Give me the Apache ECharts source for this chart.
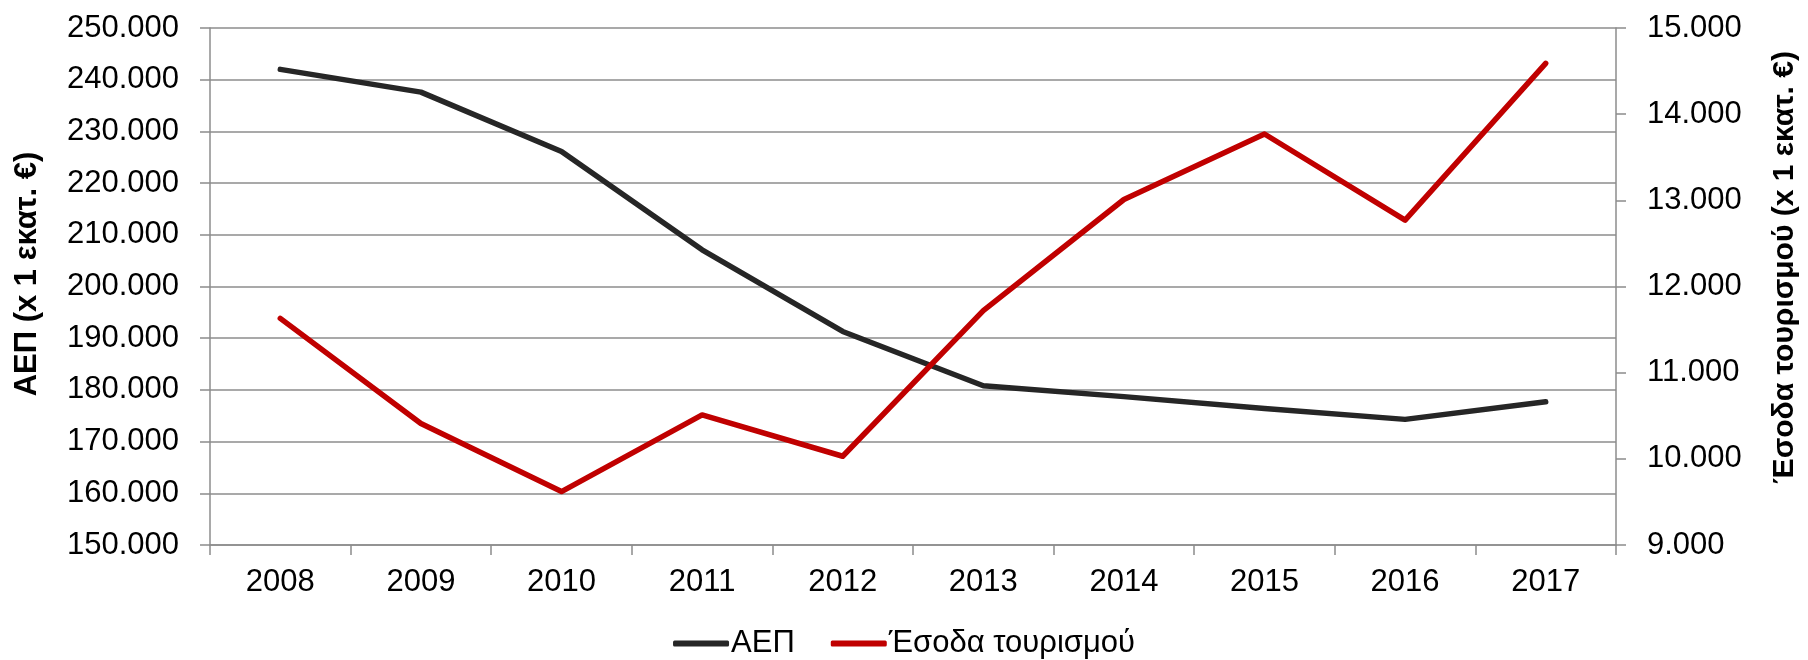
<!DOCTYPE html>
<html>
<head>
<meta charset="utf-8">
<script src="https://cdn.jsdelivr.net/npm/echarts@6/dist/echarts.min.js"></script>
<style>
html,body{margin:0;padding:0;background:#fff;}
#chart{width:1808px;height:660px;}
</style>
</head>
<body>
<div id="chart"></div>
<script>
const years = ['2008','2009','2010','2011','2012','2013','2014','2015','2016','2017'];
const gdp = [242000, 237600, 226100, 207100, 191300, 180800, 178700, 176400, 174300, 177700];
const tourism = [11630, 10410, 9620, 10510, 10030, 11720, 13010, 13770, 12770, 14590];
const seriesNames = ['ΑΕΠ', 'Έσοδα τουρισμού'];
const leftAxisName = 'ΑΕΠ (x 1 εκατ. €)';
const rightAxisName = 'Έσοδα τουρισμού (x 1 εκατ. €)';

const FONT = "'Liberation Sans', Arial, sans-serif";
const GRID = '#8c8c8c';
function fmt(v){ return String(Math.round(v)).replace(/\B(?=(\d{3})+(?!\d))/g, '.'); }

const chart = echarts.init(document.getElementById('chart'), null, {renderer:'canvas'});
chart.setOption({
  animation:false,
  backgroundColor:'#fff',
  textStyle:{fontFamily:FONT},
  grid:{left:210, right:190, top:28, bottom:115, containLabel:false},
  legend:{
    data:seriesNames,
    left:'center', bottom:1, padding:0,
    icon:'roundRect', itemWidth:56, itemHeight:6, itemGap:36,
    textStyle:{fontFamily:FONT, fontSize:31, color:'#000', padding:[0,0,0,-3]}
  },
  xAxis:{
    type:'category', data:years, boundaryGap:true,
    axisLine:{lineStyle:{color:GRID, width:1.5}},
    axisTick:{show:true, length:10, interval:0, lineStyle:{color:GRID, width:1.5}},
    axisLabel:{fontFamily:FONT, fontSize:31, color:'#000', margin:22, interval:0},
    splitLine:{show:false}
  },
  yAxis:[{
    type:'value', min:150000, max:250000, interval:10000, position:'left',
    name:leftAxisName, nameLocation:'middle', nameGap:167, nameRotate:90,
    nameTextStyle:{fontFamily:FONT, fontSize:31, fontWeight:'bold', color:'#000', padding:[0,0,0,25]},
    axisLine:{show:true, lineStyle:{color:GRID, width:1.5}},
    axisTick:{show:true, length:10, lineStyle:{color:GRID, width:1.5}},
    axisLabel:{fontFamily:FONT, fontSize:31, color:'#000', margin:31, formatter:fmt},
    splitLine:{show:true, lineStyle:{color:GRID, width:1.5}}
  },{
    type:'value', min:9000, max:15000, interval:1000, position:'right',
    name:rightAxisName, nameLocation:'middle', nameGap:154, nameRotate:90,
    nameTextStyle:{fontFamily:FONT, fontSize:30, fontWeight:'bold', color:'#000', padding:[0,0,0,38]},
    axisLine:{show:true, lineStyle:{color:GRID, width:1.5}},
    axisTick:{show:true, length:10, lineStyle:{color:GRID, width:1.5}},
    axisLabel:{fontFamily:FONT, fontSize:31, color:'#000', margin:31, formatter:fmt},
    splitLine:{show:false}
  }],
  series:[{
    name:seriesNames[0], type:'line', yAxisIndex:0, data:gdp,
    symbol:'none', color:'#262626',
    lineStyle:{color:'#262626', width:5.5, cap:'round', join:'round'}
  },{
    name:seriesNames[1], type:'line', yAxisIndex:1, data:tourism,
    symbol:'none', color:'#c00000',
    lineStyle:{color:'#c00000', width:5.5, cap:'round', join:'round'}
  }]
});
</script>
</body>
</html>
